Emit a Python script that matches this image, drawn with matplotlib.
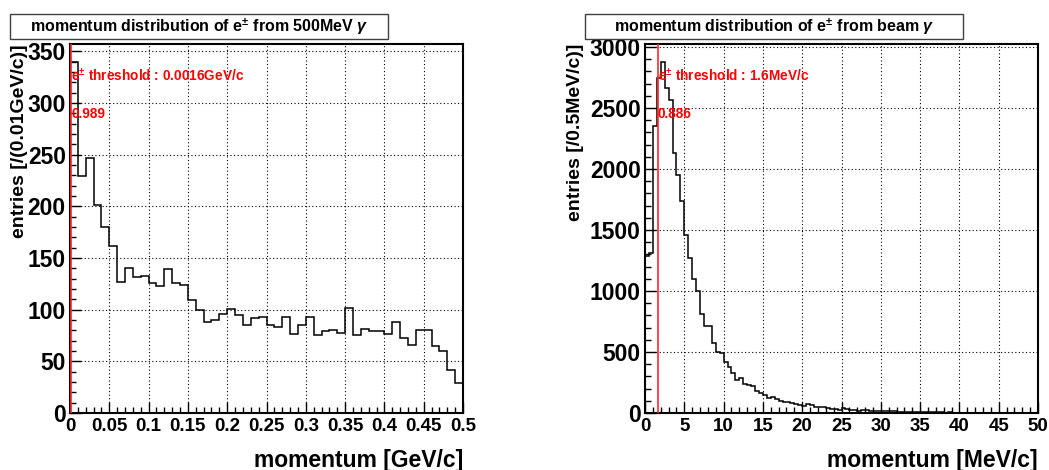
import matplotlib
matplotlib.use("Agg")
import matplotlib.pyplot as plt
import matplotlib.transforms as mtransforms
import numpy as np
from matplotlib.patches import Rectangle
from matplotlib.ticker import MultipleLocator, FuncFormatter

plt.rcParams["font.family"] = ["Liberation Sans", "DejaVu Sans"]
plt.rcParams["font.weight"] = "bold"
plt.rcParams["mathtext.fontset"] = "custom"
plt.rcParams["mathtext.rm"] = "Liberation Sans:bold"
plt.rcParams["mathtext.bf"] = "Liberation Sans:bold"
plt.rcParams["mathtext.it"] = "Liberation Sans:italic:bold"

# ---- 500 MeV photon: e+/e- momentum spectrum, 0.01 GeV/c bins ----
mono_bin_width = 0.01      # GeV/c
mono_counts = [340, 229, 247, 201, 180, 162, 127, 140, 132, 133,
               126, 123, 139, 126, 124, 109, 100, 88, 90, 96,
               101, 95, 85, 92, 93, 85, 83, 93, 76, 85,
               93, 75, 79, 80, 77, 102, 75, 81, 79, 79,
               76, 88, 73, 66, 80, 80, 65, 60, 42, 29]
mono_threshold = 0.0016    # GeV/c
mono_fraction = "0.989"
mono_title = r"momentum distribution of e$^{\pm}$ from 500MeV $\gamma$"
mono_threshold_text = r"e$^{\pm}$ threshold : 0.0016GeV/c"
mono_xlabel = "momentum [GeV/c]"
mono_ylabel = "entries [/(0.01GeV/c)]"

# ---- beam photons: e+/e- momentum spectrum, 0.5 MeV/c bins ----
beam_bin_width = 0.5       # MeV/c
beam_counts = [1290, 1310, 2350, 2748, 2880, 2666, 2565, 2132, 1949, 1736,
               1456, 1270, 1098, 1002, 810, 714, 709, 572, 504, 490,
               422, 380, 331, 271, 285, 238, 230, 224, 181, 161,
               145, 120, 134, 115, 101, 93, 88, 85, 74, 63,
               57, 74, 63, 47, 52, 47, 41, 36, 36, 27,
               38, 33, 25, 22, 19, 25, 25, 19, 16, 14,
               16, 19, 18, 14, 12, 10, 11, 9, 9, 8,
               7, 6, 7, 5, 6, 5, 4, 5, 4, 4,
               3, 3, 3, 2, 3, 2, 2, 2, 1, 2,
               1, 1, 1, 1, 1, 1, 0, 1, 0, 1]
beam_threshold = 1.6       # MeV/c
beam_fraction = "0.886"
beam_title = r"momentum distribution of e$^{\pm}$ from beam $\gamma$"
beam_threshold_text = r"e$^{\pm}$ threshold : 1.6MeV/c"
beam_xlabel = "momentum [MeV/c]"
beam_ylabel = "entries [/0.5MeV/c)]"

W, H = 1049, 470
fig = plt.figure(figsize=(W / 100, H / 100), dpi=100)
fig.patch.set_facecolor("white")

AX_TOP, AX_BOTTOM = 44, 413


def fmt(v, _pos):
    return "%g" % v


def draw_panel(x_left, x_right, counts, bin_width, xmajor, ymajor,
               threshold, thr_text, frac_text, title, xlabel, ylabel,
               box_left, box_right, ylabel_x):
    ax = fig.add_axes([x_left / W, 1 - AX_BOTTOM / H,
                       (x_right - x_left) / W, (AX_BOTTOM - AX_TOP) / H])
    n = len(counts)
    edges = np.arange(n + 1) * bin_width
    ax.stairs(counts, edges, color="black", linewidth=1.1, baseline=0)
    ax.set_xlim(edges[0], edges[-1])
    ax.set_ylim(0, max(counts) * 1.05)

    ax.xaxis.set_major_locator(MultipleLocator(xmajor))
    ax.xaxis.set_minor_locator(MultipleLocator(xmajor / 5))
    ax.yaxis.set_major_locator(MultipleLocator(ymajor))
    ax.yaxis.set_minor_locator(MultipleLocator(ymajor / 5))
    ax.xaxis.set_major_formatter(FuncFormatter(fmt))
    ax.yaxis.set_major_formatter(FuncFormatter(fmt))
    ax.tick_params(which="major", direction="in", length=8, width=1.0,
                   top=False, right=False)
    ax.tick_params(which="minor", direction="in", length=4.5, width=1.0,
                   top=False, right=False)
    ax.tick_params(axis="x", which="major", labelsize=13.5, pad=3.5)
    ax.tick_params(axis="y", which="major", labelsize=16.5, pad=3)
    for lab in ax.get_xticklabels() + ax.get_yticklabels():
        lab.set_fontweight("bold")
    ax.grid(True, which="major", color="black", linestyle=(0, (1, 2.2)),
            linewidth=0.8)
    for sp in ax.spines.values():
        sp.set_linewidth(1.5)

    ax.axvline(threshold, color="#ff2a2a", linewidth=1.2, zorder=3)
    trans = mtransforms.blended_transform_factory(ax.transData, ax.transAxes)
    ax.text(threshold, 0.898, thr_text, transform=trans, color="red",
            fontsize=9.8, fontweight="bold", ha="left", va="baseline")
    ax.text(threshold, 0.80, frac_text, transform=trans, color="red",
            fontsize=9.8, fontweight="bold", ha="left", va="baseline")

    # title box
    fig.patches.append(Rectangle((box_left / W, 1 - 39 / H),
                                 (box_right - box_left) / W, 25 / H,
                                 transform=fig.transFigure, facecolor="white",
                                 edgecolor="#404040", linewidth=1.0))
    fig.text((box_left + box_right) / 2 / W, 1 - 27 / H, title,
             ha="center", va="center", fontsize=11.5, fontweight="bold")

    fig.text(x_right / W, 1 - 460 / H, xlabel, ha="right", va="center",
             fontsize=16.5, fontweight="bold")
    fig.text(ylabel_x / W, 1 - AX_TOP / H, ylabel, rotation=90,
             ha="center", va="top", fontsize=14, fontweight="bold")
    return ax


draw_panel(70, 463, mono_counts, mono_bin_width, 0.05, 50,
           mono_threshold, mono_threshold_text, mono_fraction, mono_title,
           mono_xlabel, mono_ylabel, 10, 388, 20)
draw_panel(645, 1038, beam_counts, beam_bin_width, 5, 500,
           beam_threshold, beam_threshold_text, beam_fraction, beam_title,
           beam_xlabel, beam_ylabel, 585, 963, 575)

fig.savefig("out.png", dpi=100, facecolor="white")
